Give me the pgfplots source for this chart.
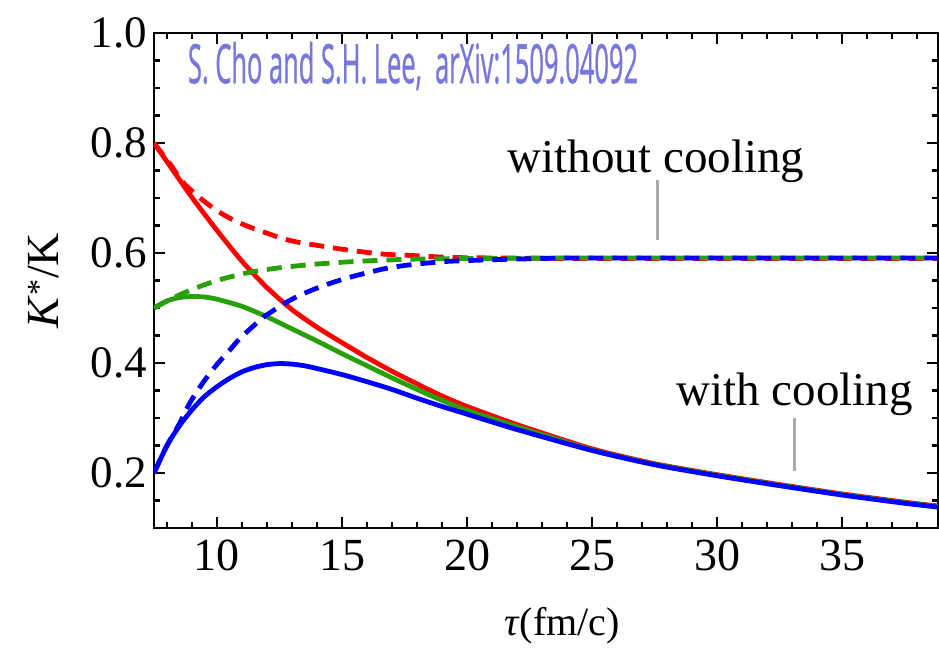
\documentclass[border=0pt]{standalone}
\usepackage{fontspec}
\setmainfont{Liberation Serif}
\newfontfamily\comicfont{Open Sans}[FakeBold=1.2]
\usepackage{graphicx}
\usepackage{pgfplots}
\pgfplotsset{compat=1.18}
\definecolor{cred}{RGB}{255,0,0}
\definecolor{cgreen}{RGB}{40,160,10}
\definecolor{cblue}{RGB}{0,0,255}
\definecolor{lgray}{RGB}{170,170,170}
\definecolor{txtblue}{RGB}{120,120,220}
\begin{document}
\begin{tikzpicture}
\useasboundingbox (-154pt,-120pt) rectangle (785pt,528pt);
\begin{axis}[
  scale only axis, width=784pt, height=495pt,
  xmin=7.48, xmax=38.84, ymin=0.1, ymax=1.0,
  xtick={10,15,20,25,30,35},
  xticklabels={10,15,20,25,30,35},
  ytick={0.2,0.4,0.6,0.8,1.0},
  yticklabels={0.2,0.4,0.6,0.8,1.0},
  tick style={draw=none},
  axis line style={line width=1.8pt},
  xticklabel style={font=\fontsize{46}{46}\selectfont, inner sep=0pt, anchor=north, yshift=-12pt},
  yticklabel style={font=\fontsize{45}{45}\selectfont, inner sep=0pt, anchor=east, xshift=-7pt},
  xlabel={\textit{τ}(fm/c)},
  xlabel style={font=\fontsize{40}{40}\selectfont, at={(axis description cs:0.5204,-0.2162)}, anchor=base, inner sep=0pt},
  ylabel={\textit{K}\textsuperscript{*}/K},
  ylabel style={font=\fontsize{46}{46}\selectfont, at={(axis description cs:-0.1224,0.5)}, anchor=base, inner sep=0pt},
]
% frame ticks (minor every 1 in x, 0.05 in y; major every 5 and 0.2)
\pgfplotsinvokeforeach{8,9,11,12,13,14,16,17,18,19,21,22,23,24,26,27,28,29,31,32,33,34,36,37,38}{
  \draw[line width=2.2pt, black] (axis cs:#1,0.1) -- ([yshift=6pt]axis cs:#1,0.1);
  \draw[line width=2.2pt, black] (axis cs:#1,1.0) -- ([yshift=-6pt]axis cs:#1,1.0);
}
\pgfplotsinvokeforeach{10,15,20,25,30,35}{
  \draw[line width=2.2pt, black] (axis cs:#1,0.1) -- ([yshift=11pt]axis cs:#1,0.1);
  \draw[line width=2.2pt, black] (axis cs:#1,1.0) -- ([yshift=-11pt]axis cs:#1,1.0);
}
\pgfplotsinvokeforeach{0.15,0.25,0.3,0.35,0.45,0.5,0.55,0.65,0.7,0.75,0.85,0.9,0.95}{
  \draw[line width=2.2pt, black] (axis cs:7.48,#1) -- ([xshift=6pt]axis cs:7.48,#1);
  \draw[line width=2.2pt, black] (axis cs:38.84,#1) -- ([xshift=-6pt]axis cs:38.84,#1);
}
\pgfplotsinvokeforeach{0.2,0.4,0.6,0.8}{
  \draw[line width=2.2pt, black] (axis cs:7.48,#1) -- ([xshift=11pt]axis cs:7.48,#1);
  \draw[line width=2.2pt, black] (axis cs:38.84,#1) -- ([xshift=-11pt]axis cs:38.84,#1);
}
% red solid
\addplot[cred, line width=4.8pt, smooth, tension=0.4] coordinates {
(7.48,0.800) (8.0,0.766) (9.0,0.701) (10.0,0.641) (11.0,0.585) (12.0,0.537)
(13.0,0.497) (14.0,0.465) (15.0,0.437) (16.0,0.410) (17.0,0.385) (18.0,0.362)
(19.0,0.340) (20.0,0.321) (22.0,0.288) (25.0,0.244) (27.5,0.217) (30.0,0.197)
(32.5,0.179) (35.0,0.162) (37.5,0.147) (38.84,0.140)};
% red dashed
\addplot[cred, line width=4.8pt, smooth, tension=0.4, dash pattern=on 15pt off 9pt] coordinates {
(7.48,0.800) (8.12,0.762) (8.65,0.728) (9.32,0.700) (10.0,0.677) (10.65,0.660)
(11.32,0.647) (12.0,0.636) (12.65,0.626) (13.3,0.619) (14.0,0.614) (15.3,0.605)
(16.65,0.598) (18.0,0.595) (19.3,0.592) (21.0,0.591) (25.0,0.590) (30.0,0.590) (38.84,0.590)};
% green solid
\addplot[cgreen, line width=4.8pt, smooth, tension=0.4] coordinates {
(7.48,0.500) (8.0,0.513) (8.5,0.519) (9.0,0.521) (9.5,0.520) (10.0,0.516)
(11.0,0.503) (12.0,0.484) (13.0,0.462) (14.0,0.440) (15.0,0.417) (16.0,0.395)
(17.0,0.373) (18.0,0.352) (19.0,0.332) (20.0,0.314) (22.0,0.284) (25.0,0.242)
(27.5,0.216) (30.0,0.196) (32.5,0.178) (35.0,0.161) (37.5,0.146) (38.84,0.139)};
% green dashed
\addplot[cgreen, line width=4.8pt, smooth, tension=0.4, dash pattern=on 15pt off 9pt] coordinates {
(7.48,0.500) (8.1,0.515) (8.65,0.527) (9.3,0.539) (10.0,0.550) (10.65,0.558)
(11.32,0.565) (12.0,0.570) (12.65,0.574) (13.3,0.577) (14.0,0.580) (15.3,0.584)
(16.65,0.587) (18.0,0.589) (20.0,0.590) (25.0,0.591) (38.84,0.591)};
% blue solid
\addplot[cblue, line width=4.8pt, smooth, tension=0.4] coordinates {
(7.48,0.200) (8.0,0.250) (8.5,0.286) (9.0,0.315) (9.5,0.339) (10.0,0.357)
(10.5,0.372) (11.0,0.384) (11.5,0.392) (12.0,0.397) (12.5,0.399) (13.0,0.398)
(13.5,0.395) (14.0,0.390) (15.0,0.379) (16.0,0.366) (17.0,0.352) (18.0,0.336)
(19.0,0.321) (20.0,0.307) (22.0,0.279) (25.0,0.241) (27.5,0.215) (30.0,0.195)
(32.5,0.177) (35.0,0.160) (37.5,0.145) (38.84,0.138)};
% blue dashed
\addplot[cblue, line width=4.8pt, smooth, tension=0.4, dash pattern=on 15pt off 9pt] coordinates {
(7.48,0.200) (8.0,0.250) (8.5,0.290) (8.92,0.328) (9.45,0.365) (9.99,0.397)
(10.52,0.424) (10.92,0.445) (11.4,0.465) (11.85,0.483) (12.65,0.507) (13.3,0.523)
(13.99,0.536) (14.6,0.546) (15.32,0.556) (16.0,0.564) (16.65,0.571) (17.3,0.576)
(18.0,0.580) (19.3,0.585) (21.2,0.588) (23.0,0.590) (25.0,0.591) (38.84,0.591)};
% annotations
\draw[lgray, line width=3pt] (axis cs:27.6,0.623) -- (axis cs:27.6,0.732);
\draw[lgray, line width=3pt] (axis cs:33.08,0.204) -- (axis cs:33.08,0.300);
\node[anchor=base, inner sep=0pt, font=\fontsize{47}{47}\selectfont] at (axis cs:27.56,0.747) {without cooling};
\node[anchor=base, inner sep=0pt, font=\fontsize{47}{47}\selectfont] at (axis cs:33.1,0.322) {with cooling};
\node[anchor=base, inner sep=0pt, text=txtblue] at (axis cs:17.84,0.909) {\resizebox{450pt}{41pt}{\comicfont S. Cho and S.H. Lee,\ \ arXiv:1509.04092}};
\end{axis}
\end{tikzpicture}
\end{document}
